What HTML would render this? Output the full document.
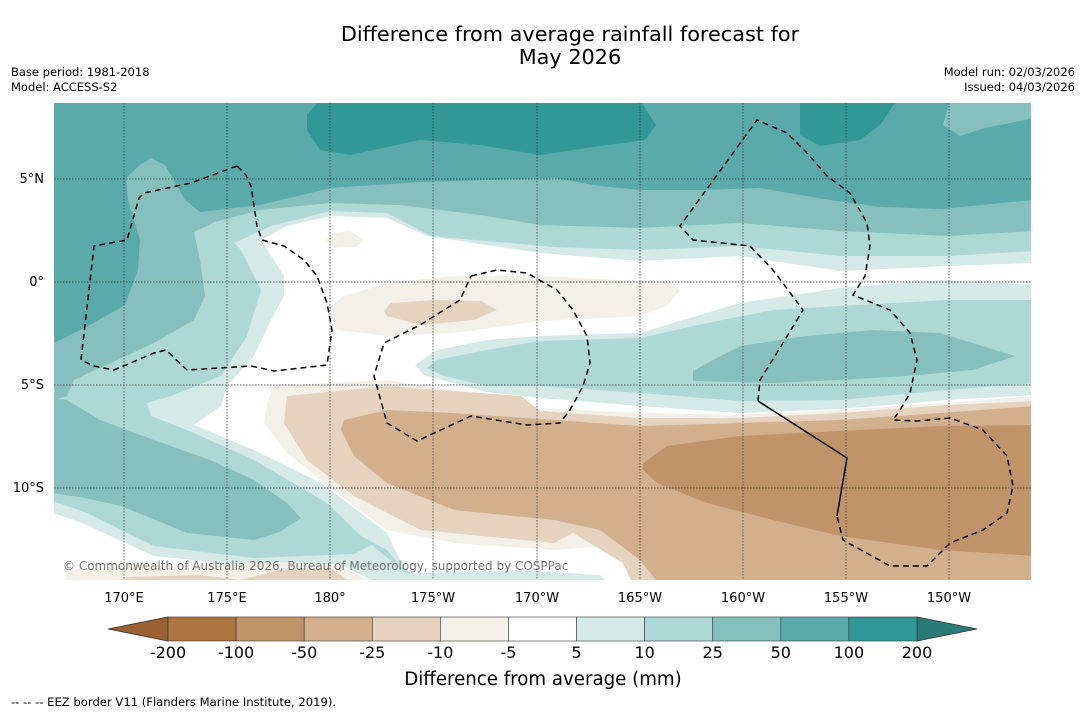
<!DOCTYPE html>
<html><head><meta charset="utf-8"><style>
body{margin:0;background:#fff;width:1085px;height:713px;overflow:hidden;font-family:"Liberation Sans",sans-serif;}
svg text{font-family:"DejaVu Sans","Liberation Sans",sans-serif;}
</style></head><body>
<svg id="chart" width="1085" height="713" viewBox="0 0 1085 713">
<rect width="1085" height="713" fill="#fff"/>
<text x="570" y="41" font-size="20.8" text-anchor="middle" fill="#000">Difference from average rainfall forecast for</text>
<text x="570" y="64" font-size="20.8" text-anchor="middle" fill="#000">May 2026</text>
<text x="11" y="76" font-size="11.5">Base period: 1981-2018</text>
<text x="11" y="91" font-size="11.5">Model: ACCESS-S2</text>
<text x="1075" y="76" font-size="11.5" text-anchor="end">Model run: 02/03/2026</text>
<text x="1075" y="91" font-size="11.5" text-anchor="end">Issued: 04/03/2026</text>
<defs><clipPath id="mc"><rect x="54" y="103" width="977" height="477"/></clipPath></defs>
<g clip-path="url(#mc)">
<rect x="54" y="103" width="977" height="477" fill="#5aaaa9"/>
<polygon fill="#329896" points="307,115 320,100 640,100 656,125 645,140 600,146 540,155 480,145 420,140 350,155 320,150 307,130"/>
<polygon fill="#329896" points="800,100 897,100 880,125 860,140 820,146 800,135"/>
<polygon fill="#86c0be" points="950,100 1035,100 1035,118 985,128 960,136 943,125"/>
<polygon fill="#86c0be" points="54,343 90,325 125,305 138,270 140,240 128,200 126,178 140,165 151,158 165,165 185,200 200,212 260,205 331,188 420,182 554,178 600,186 640,190 700,190 760,188 830,200 880,207 943,209 1000,203 1035,200 1035,585 54,585"/>
<polygon fill="#aed8d6" points="1035,231 947,236 840,231 740,223 640,228 540,225 480,215 400,205 331,203 260,210 215,222 194,232 200,260 205,296 194,320 154,343 74,380 67,396 54,400 54,585 1035,585"/>
<polygon fill="#86c0be" points="50,398 67,400 100,420 154,440 210,460 254,480 287,503 301,518 280,532 254,540 187,533 121,506 80,497 50,493"/>
<polygon fill="#d5e9e7" points="234,243 271,226 331,211 387,213 431,236 554,247 640,250 740,246 840,256 947,256 1035,251 1035,585 430,585 400,566 387,550 361,536 327,503 254,460 194,433 151,416 147,403 171,396 221,376 247,336 261,290 241,250"/>
<polygon fill="#ffffff" points="261,240 287,226 331,216 387,218 427,236 540,253 640,261 740,256 840,271 947,266 1035,263 1035,585 420,585 400,560 387,533 321,483 254,450 194,425 221,406 227,386 254,356 271,320 284,296 284,276"/>
<polygon fill="#d5e9e7" points="50,500 87,513 154,546 254,558 354,554 372,545 420,585 50,585"/>
<polygon fill="#ffffff" points="50,512 80,522 154,556 254,566 340,564 380,585 50,585"/>
<polygon fill="#f3efe9" points="326,240 334,233 350,231 364,240 356,247 335,248"/>
<polygon fill="#f3efe9" points="331,306 344,296 387,283 454,276 540,276 673,283 680,290 667,306 640,316 540,321 454,333 387,336 337,330 331,316"/>
<polygon fill="#e5d2bf" points="384,311 391,303 437,300 481,301 497,310 474,320 421,325 387,316"/>
<polygon fill="#d5e9e7" points="1035,285 940,280 840,288 740,303 673,323 640,333 540,336 487,340 437,350 415,365 424,375 487,392 540,398 640,406 740,413 840,409 947,400 1035,395"/>
<polygon fill="#aed8d6" points="1035,300 947,300 840,306 773,310 707,323 640,338 540,341 487,350 437,360 427,368 444,376 487,386 540,386 640,393 740,401 840,400 947,390 1035,383"/>
<polygon fill="#86c0be" points="693,371 713,360 740,346 807,336 873,330 940,333 1015,356 973,370 907,376 840,380 773,383 693,381"/>
<polygon fill="#f3efe9" points="274,386 387,380 487,396 540,408 640,413 740,415 840,410 947,403 1035,396 1035,585 640,585 607,546 554,550 454,543 387,530 337,493 287,453 264,423 267,403"/>
<polygon fill="#e5d2bf" points="287,396 387,386 521,396 540,411 640,418 740,418 840,413 947,405 1035,401 1035,585 633,585 623,563 573,533 554,543 421,530 354,496 307,460 284,423"/>
<polygon fill="#d2b08e" points="344,420 387,410 454,413 554,420 640,426 740,423 840,420 940,413 1035,406 1035,585 660,585 640,560 600,530 554,520 454,510 387,483 354,456 341,430"/>
<polygon fill="#bf9469" points="643,463 667,446 740,436 840,431 940,426 1035,425 1035,556 940,550 840,536 773,520 707,503 657,483 643,470"/>
<polygon fill="#f3efe9" points="62,585 70,570 120,566 200,565 280,562 340,566 380,585"/>
<polygon fill="#e5d2bf" points="100,585 130,577 200,575 240,580 280,570 330,568 355,585"/>
<polygon fill="#d5e9e7" points="368,585 380,575 450,572 520,570 600,575 610,585"/>
<g stroke="#333" stroke-width="0.7" stroke-dasharray="1.5,1.5" fill="none">
<line x1="124" y1="103" x2="124" y2="580"/><line x1="227" y1="103" x2="227" y2="580"/><line x1="330" y1="103" x2="330" y2="580"/><line x1="433" y1="103" x2="433" y2="580"/><line x1="537" y1="103" x2="537" y2="580"/><line x1="640" y1="103" x2="640" y2="580"/><line x1="743" y1="103" x2="743" y2="580"/><line x1="846" y1="103" x2="846" y2="580"/><line x1="949" y1="103" x2="949" y2="580"/>
<line x1="54" y1="179" x2="1031" y2="179"/><line x1="54" y1="282" x2="1031" y2="282"/><line x1="54" y1="385" x2="1031" y2="385"/><line x1="54" y1="488" x2="1031" y2="488"/>
</g>
<g stroke="#000" stroke-width="1.5" fill="none" stroke-dasharray="6,4">
<polyline points="237,166 191,183 144,193 139,198 127,240 94,246 81,360 94,366 114,370 154,353 166,350 187,370 251,366 274,371 327,365 332,330 327,303 317,276 304,260 284,246 262,240 257,226 251,186 246,175 237,166"/>
<polyline points="471,276 497,270 527,273 557,290 573,310 587,336 590,363 583,386 570,410 560,423 527,425 471,416 417,441 387,423 374,376 384,343 420,325 460,300 471,276"/>
<polyline points="758,401 760,380 783,343 803,310 773,270 750,246 693,240 680,226 757,120 787,133 807,153 827,176 850,193 867,223 870,246 865,276 853,295 890,310 910,333 917,360 910,393 900,410 893,420 917,421 950,418 983,430 1007,456 1013,486 1007,513 983,530 950,543 927,566 890,566 843,540 837,516"/>
<polyline points="758,401 847,458 837,516" stroke-dasharray="none"/>
</g>
</g>
<text x="63" y="570" font-size="12" fill="#777">© Commonwealth of Australia 2026, Bureau of Meteorology, supported by COSPPac</text>
<g font-size="13" fill="#000">
<text x="44" y="183" text-anchor="end">5°N</text><text x="44" y="286" text-anchor="end">0°</text><text x="44" y="389" text-anchor="end">5°S</text><text x="44" y="492" text-anchor="end">10°S</text>
</g>
<g font-size="13" fill="#000" text-anchor="middle">
<text x="124" y="602">170°E</text><text x="227" y="602">175°E</text><text x="330" y="602">180°</text><text x="433" y="602">175°W</text><text x="537" y="602">170°W</text><text x="640" y="602">165°W</text><text x="743" y="602">160°W</text><text x="846" y="602">155°W</text><text x="949" y="602">150°W</text>
</g>
<g id="cbar"></g>
<text x="543" y="685" font-size="18.2" text-anchor="middle">Difference from average (mm)</text>
<text x="11" y="706" font-size="11.6">--  --  -- EEZ border V11 (Flanders Marine Institute, 2019).</text>
</svg>
<script>
const cbLevels = ["-200","-100","-50","-25","-10","-5","5","10","25","50","100","200"];
const cbColors = ["#ad7541","#bf9469","#d2b08e","#e5d2bf","#f3efe9","#ffffff","#d5e9e7","#aed8d6","#86c0be","#5aaaa9","#329896"];
const cbExtColors = ["#9a6132","#2a7a78"];
const NS="http://www.w3.org/2000/svg";
const g=document.getElementById('cbar');
const x0=168,x1=917,y0=617,h=24;
const w=(x1-x0)/(cbLevels.length-1);
function cx(i){return x0+i*w;}
const lt=document.createElementNS(NS,'polygon');
lt.setAttribute('points',`${x0},${y0} ${x0},${y0+h} 108,${y0+h/2}`);
lt.setAttribute('fill',cbExtColors[0]);lt.setAttribute('stroke','#333');lt.setAttribute('stroke-width','0.8');


g.appendChild(lt);
const rt=document.createElementNS(NS,'polygon');
rt.setAttribute('points',`${x1},${y0} ${x1},${y0+h} 977,${y0+h/2}`);
rt.setAttribute('fill',cbExtColors[1]);rt.setAttribute('stroke','#333');rt.setAttribute('stroke-width','0.8');


g.appendChild(rt);
cbColors.forEach((c,i)=>{
 const r=document.createElementNS(NS,'rect');
 r.setAttribute('x',cx(i));r.setAttribute('y',y0);r.setAttribute('width',w);r.setAttribute('height',h);
 r.setAttribute('fill',c);r.setAttribute('stroke','#333');r.setAttribute('stroke-width','0.6');
 
 
 g.appendChild(r);
});
cbLevels.forEach((l,i)=>{
 const t=document.createElementNS(NS,'text');
 t.setAttribute('x',cx(i));t.setAttribute('y',658);t.setAttribute('font-size','16');t.setAttribute('text-anchor','middle');
 t.textContent=l;
 
 
 g.appendChild(t);
});
</script>
</body></html>
